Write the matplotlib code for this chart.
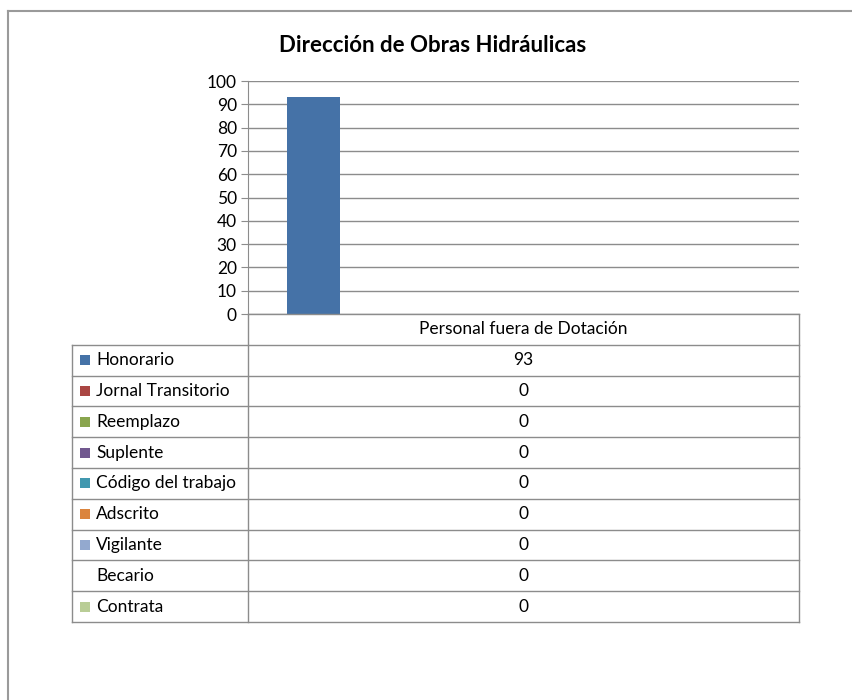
import matplotlib
matplotlib.use("Agg")
import matplotlib.pyplot as plt
from matplotlib.patches import Rectangle
import numpy as np

plt.rcParams['font.family'] = ['Lato', 'DejaVu Sans']

# data
title = "Dirección de Obras Hidráulicas"
category = "Personal fuera de Dotación"
series = ["Honorario", "Jornal Transitorio", "Reemplazo", "Suplente",
          "Código del trabajo", "Adscrito", "Vigilante", "Becario", "Contrata"]
values = [93, 0, 0, 0, 0, 0, 0, 0, 0]
colors = ["#4572A7", "#AA4643", "#89A54E", "#71588F", "#4198AF",
          "#DB843D", "#93A9CF", "none", "#B9CD96"]
yticks = list(range(0, 101, 10))

W, H = 853, 700
fig = plt.figure(figsize=(W / 100, H / 100), dpi=100)
grid_c = "#8c8c8c"
fs = 12.5

# pixel layout
x_left, x_axis, x_right = 72.5, 248, 799
y_top, y_zero = 81, 314
row_h = 30.8

ax = fig.add_axes([x_axis / W, 1 - y_zero / H, (x_right - x_axis) / W, (y_zero - y_top) / H])
n = len(series)
gap = 1.5
w = 1.0 / (n + gap)
x0 = -0.5 + gap / 2 * w
for i, (v, c) in enumerate(zip(values, colors)):
    if c != "none":
        ax.bar(x0 + (i + 0.5) * w, v, width=w, color=c, zorder=3)
ax.set_xlim(-0.5, 0.5)
ax.set_ylim(0, 100)
ax.set_yticks(yticks)
ax.set_xticks([])
ax.grid(axis="y", color=grid_c, lw=1, zorder=0)
for s in ["top", "right", "bottom"]:
    ax.spines[s].set_visible(False)
ax.spines["left"].set_color(grid_c)
ax.tick_params(axis="y", length=5, color=grid_c, labelsize=fs, pad=3)

# overlay in pixel coordinates for the frame and the data table
ov = fig.add_axes([0, 0, 1, 1])
ov.set_xlim(0, W)
ov.set_ylim(H, 0)
ov.axis("off")
ov.plot([8.5, 8.5], [H, 10.5], color="#9a9a9a", lw=1.5)
ov.plot([8.5, W], [10.5, 10.5], color="#9a9a9a", lw=1.5)

ov.text(433, 45, title, ha="center", va="center",
        fontsize=16, fontweight="bold")

y_head = y_zero
y_tab = y_head + row_h
y_bot = y_tab + n * row_h
lc = dict(color=grid_c, lw=1)
ov.plot([x_axis, x_axis], [y_zero, y_bot], **lc)
ov.plot([x_right, x_right], [y_head, y_bot], **lc)
ov.plot([x_left, x_left], [y_tab, y_bot], **lc)
ov.plot([x_axis, x_right], [y_head, y_head], **lc)
for k in range(n + 1):
    yy = y_tab + k * row_h
    ov.plot([x_left, x_right], [yy, yy], **lc)
xc = (x_axis + x_right) / 2
ov.text(xc, y_head + row_h / 2, category, ha="center", va="center", fontsize=fs)
for k, (name, v, c) in enumerate(zip(series, values, colors)):
    yc = y_tab + (k + 0.5) * row_h
    if c != "none":
        ov.add_patch(Rectangle((80, yc - 5), 10, 10, facecolor=c, edgecolor="none"))
    ov.text(96, yc, name, ha="left", va="center", fontsize=fs)
    ov.text(xc, yc, str(v), ha="center", va="center", fontsize=fs)

fig.savefig("out.png", dpi=100)
